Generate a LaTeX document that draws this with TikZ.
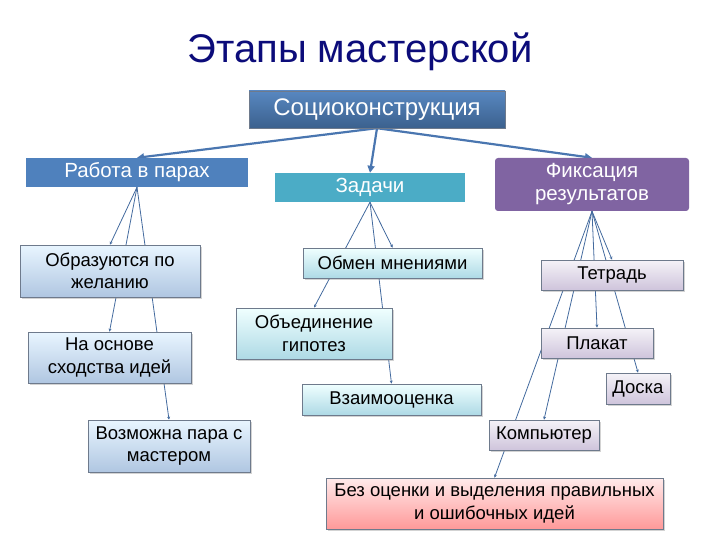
\documentclass[tikz,border=0pt]{standalone}
\usepackage{fontspec}
\setmainfont{Liberation Sans}
\usetikzlibrary{arrows.meta,backgrounds,shadows}

\definecolor{titleblue}{HTML}{0C0C7A}
\definecolor{edgeblue}{HTML}{4A76B0}
\definecolor{pairblue}{HTML}{4F81BD}
\definecolor{taskteal}{HTML}{4BACC6}
\definecolor{fixviolet}{HTML}{8064A2}
\definecolor{boxline}{HTML}{6E7A8C}

\begin{document}
\begin{tikzpicture}[x=1pt, y=-1pt,
  stage/.style={rectangle, text=white, align=center, inner sep=0pt, font=\fontsize{20.5}{23}\selectfont},
  leaf/.style={rectangle, draw=boxline, line width=0.8pt, align=center, inner sep=0pt, font=\fontsize{18.5}{22.5}\selectfont,
    drop shadow={shadow xshift=1.5pt, shadow yshift=-1.5pt, opacity=0.35}},
  pairleaf/.style={leaf, top color=blue!4!white!95!cyan, bottom color=pairblue!45},
  taskleaf/.style={leaf, top color=cyan!6, bottom color=taskteal!45},
  fixleaf/.style={leaf, top color=fixviolet!8, bottom color=fixviolet!38},
  main/.style={-{Triangle[length=7pt,width=7pt]}, line width=2.2pt, draw=edgeblue},
  sub/.style={-{Stealth[length=3pt,width=3pt]}, line width=0.8pt, draw=edgeblue!90!black}
]
\useasboundingbox (0,0) rectangle (720,540);

\node[text=titleblue, font=\fontsize{40}{44}\selectfont] (title) at (360,52) {Этапы мастерской};

\node[stage, top color=pairblue!95!white, bottom color=pairblue!75!black, draw=boxline, minimum width=256pt, minimum height=37pt,
  font=\fontsize{24}{26}\selectfont] (soc) at (377,109.5) {Социоконструкция};

\node[stage, fill=pairblue, minimum width=222pt, minimum height=29pt] (pairs) at (137,172.5) {Работа в парах};
\node[stage, fill=taskteal, minimum width=190pt, minimum height=29pt] (tasks) at (370,187.5) {Задачи};
\node[stage, fill=fixviolet, rounded corners=3pt, minimum width=194pt, minimum height=53pt] (fix) at (592,184.5) {Фиксация\\результатов};

\node[pairleaf, minimum width=180pt, minimum height=52pt] (wish) at (110,271) {Образуются по\\желанию};
\node[pairleaf, minimum width=163pt, minimum height=51pt] (idea) at (109.5,357.5) {На основе\\сходства идей};
\node[pairleaf, minimum width=162pt, minimum height=52pt] (master) at (169,446) {Возможна пара с\\мастером};

\node[taskleaf, minimum width=179pt, minimum height=30pt] (swap) at (392.5,263) {Обмен мнениями};
\node[taskleaf, minimum width=156pt, minimum height=51pt] (hyp) at (314,333.5) {Объединение\\гипотез};
\node[taskleaf, minimum width=179pt, minimum height=31pt] (peer) at (391.5,399.5) {Взаимооценка};

\node[fixleaf, minimum width=142pt, minimum height=30pt] (note) at (612,275) {Тетрадь};
\node[fixleaf, minimum width=112pt, minimum height=30pt] (poster) at (597,343) {Плакат};
\node[fixleaf, minimum width=64pt, minimum height=31pt] (board) at (638,388.5) {Доска};
\node[fixleaf, minimum width=110pt, minimum height=30pt] (comp) at (544,435) {Компьютер};
\node[leaf, top color=red!8, bottom color=red!40, minimum width=337pt, minimum height=51pt] (noeval) at (494.5,503.5) {Без оценки и выделения правильных\\и ошибочных идей};

\begin{pgfonlayer}{background}
\foreach \s in {pairs,tasks,fix} { \draw[main] (soc.south) -- (\s.north); }
\foreach \c in {wish,idea,master} { \draw[sub] (pairs.south) -- (\c.north); }
\foreach \c in {swap,hyp,peer} { \draw[sub] (tasks.south) -- (\c.north); }
\foreach \c in {note,poster,board,comp,noeval} { \draw[sub] (fix.south) -- (\c.north); }
\end{pgfonlayer}
\end{tikzpicture}
\end{document}
